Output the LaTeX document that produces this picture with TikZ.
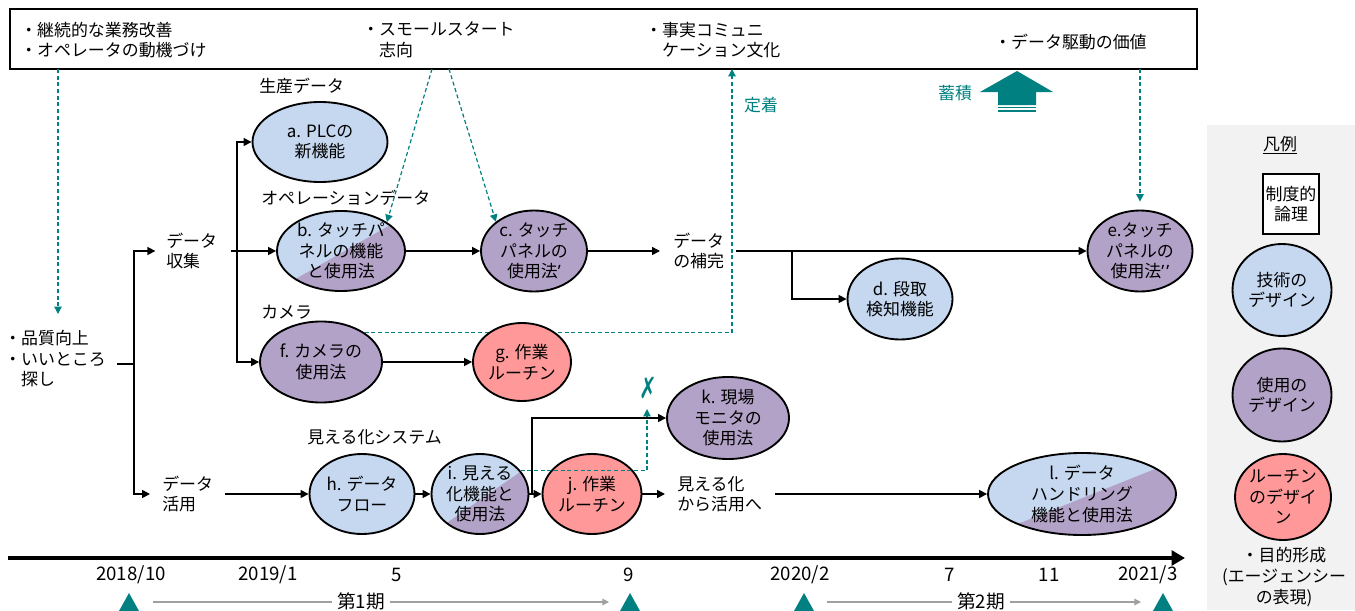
\documentclass[tikz,border=0pt]{standalone}
\usepackage{fontspec}
\usepackage{graphicx}
\setmainfont{Noto Sans CJK JP}
\newfontfamily\latf{Noto Sans}
\newfontfamily\symf{DejaVu Sans}
\usetikzlibrary{shapes.geometric,arrows.meta,calc}
\definecolor{techblue}{RGB}{197,216,240}
\definecolor{usepurple}{RGB}{179,162,199}
\definecolor{routpink}{RGB}{255,153,153}
\definecolor{tealc}{RGB}{0,128,128}
\definecolor{legendbg}{RGB}{242,242,242}
\definecolor{grayarr}{RGB}{160,160,160}
\begin{document}
\begin{tikzpicture}[x=0.75pt,y=-0.75pt,
  txt/.style={font=\fontsize{12.7}{15.4}\selectfont, inner sep=0pt, align=center},
  txtl/.style={txt, align=left, anchor=west},
  tltxt/.style={font=\fontsize{14}{16}\selectfont, inner sep=0pt},
  ell/.style 2 args={ellipse, draw, line width=1.4pt, inner sep=0pt, minimum width=#1*0.75pt, minimum height=#2*0.75pt},
  conn/.style={line width=1.2pt},
  arr/.style={conn, -{Triangle[length=6pt,width=6pt]}},
  tdash/.style={tealc, line width=0.9pt, dash pattern=on 3pt off 2pt},
  tarr/.style={tdash, -{Triangle[length=5.5pt,width=5.5pt]}},
  grayline/.style={grayarr, line width=0.8pt},
]
\useasboundingbox (0,0) rectangle (1355,610);

% legend background
\fill[legendbg] (1207,125) rectangle (1355,610);

% top box
\node[draw, line width=1.6pt, minimum width=1187*0.75pt, minimum height=60*0.75pt, inner sep=0pt] (topbox) at (603.5,39) {};
\node[txtl] (t1) at (20,40) {・継続的な業務改善\\・オペレータの動機づけ};
\node[txtl] (t2) at (362,40) {・スモールスタート\\\phantom{・}志向};
\node[txtl] (t3) at (645,40) {・事実コミュニ\\\phantom{・}ケーション文化};
\node[txtl] (t4) at (994,42) {・データ駆動の価値};

% labels
\node[txtl] (lprod) at (259,86) {生産データ};
\node[txtl] (lop) at (261,198) {オペレーションデータ};
\node[txtl] (lcam) at (261,312) {カメラ};
\node[txtl] (lvis) at (307,437) {見える化システム};
\node[txtl] (root) at (4,359) {・品質向上\\・いいところ\\\phantom{・}探し};
\node[txtl] (collect) at (166,251) {データ\\収集};
\node[txtl] (use) at (162,494) {データ\\活用};
\node[txtl] (compl) at (673,251) {データ\\の補完};
\node[txtl] (vis) at (677,494) {見える化\\から活用へ};
\node[txt, text=tealc] (lfix) at (761,105) {定着};
\node[txt, text=tealc] (lacc) at (955,93) {蓄積};

% named coordinates for free ends
\coordinate (q1a) at (58,69);
\coordinate (q1b) at (58,314);
\coordinate (q2a) at (432,69);
\coordinate (q3a) at (449,69);
\coordinate (q4) at (732,69);
\coordinate (q5a) at (1140,69);
\coordinate (q6) at (647,409);

% split fills
\begin{scope}
  \clip (341,251) ellipse [x radius=48pt, y radius=30pt];
  \fill[techblue] (270,205) rectangle (410,300);
  \fill[usepurple] (270,293.5) -- (410,213.7) -- (410,300) -- (270,300) -- cycle;
\end{scope}
\begin{scope}
  \clip (480,494) ellipse [x radius=36.4pt, y radius=30pt];
  \fill[techblue] (425,450) rectangle (535,540);
  \fill[usepurple] (425,538) -- (535,461.7) -- (535,540) -- (425,540) -- cycle;
\end{scope}
\begin{scope}
  \clip (1082,494) ellipse [x radius=70.5pt, y radius=30.75pt];
  \fill[techblue] (985,450) rectangle (1180,540);
  \fill[usepurple] (985,537) -- (1180,459) -- (1180,540) -- (985,540) -- cycle;
\end{scope}

% ellipses
\node[ell={135}{80}, fill=techblue] (a) at (320,142) {};
\node[ell={128}{80}] (b) at (341,251) {};
\node[ell={106}{81}, fill=usepurple] (c) at (534,251) {};
\node[ell={105}{81}, fill=techblue] (d) at (900,299) {};
\node[ell={105}{81}, fill=usepurple] (e) at (1140,251) {};
\node[ell={122}{81}, fill=usepurple] (f) at (321,362) {};
\draw[tdash] (f.north east) -- (f.north east -| q4);
\node[ell={98}{78}, fill=routpink] (g) at (522,362) {};
\node[ell={105}{80}, fill=techblue] (h) at (362,494) {};
\node[ell={97}{80}] (i) at (480,494) {};
\node[ell={99}{80}, fill=routpink] (j) at (592,494) {};
\node[ell={122}{82}, fill=usepurple] (k) at (728,418) {};
\node[ell={188}{82}] (l) at (1082,494) {};

\node[txt] (at) at (a) {a. PLCの\\新機能};
\node[txt] (bt) at (b) {b. タッチパ\\ネルの機能\\と使用法};
\node[txt] (ct) at (c) {c. タッチ\\パネルの\\使用法{\latf ’}};
\node[txt] (dt) at (d) {d. 段取\\検知機能};
\node[txt] (et) at (e) {e.タッチ\\パネルの\\使用法{\latf ’\kern1.6pt’}};
\node[txt] (ft) at (f) {f. カメラの\\使用法};
\node[txt] (gt) at (g) {g. 作業\\ルーチン};
\node[txt] (ht) at (h) {h. データ\\フロー};
\node[txt] (it) at (i) {i. 見える\\化機能と\\使用法};
\node[txt] (jt) at (j) {j. 作業\\ルーチン};
\node[txt] (kt) at (k) {k. 現場\\モニタの\\使用法};
\node[txt] (lt) at (l) {l. データ\\ハンドリング\\機能と使用法};

% teal dashed arrows
\draw[tarr] (q1a) -- (q1b);
\draw[tarr] (q2a) -- (b.north east);
\draw[tarr] (q3a) -- (c.north west);
\draw[tarr] (f.north east -| q4) -- (q4);
\draw[tarr, shorten >=6pt] (q5a) -- (e.north);
\draw[tarr] (i.30) -| (q6);
\node[text=tealc, font=\symf\bfseries\fontsize{22}{22}\selectfont, inner sep=0pt] (xm) at (648,388) {\scalebox{0.72}[1]{✗}};

% accumulate block arrow
\fill[tealc] (1017,71) -- (1053,92) -- (1036,92) -- (1036,105) -- (998,105) -- (998,92) -- (980,92) -- cycle;
\fill[tealc] (998,106.8) rectangle (1036,108.4);
\fill[tealc] (998,110.2) rectangle (1036,112);

% black connectors
\coordinate (rootout) at (117,364);
\coordinate (sp0) at (134,364);
\coordinate (sp1) at (237,251);
\coordinate (sp2) at (792,251);
\coordinate (sp3) at (532,494);
\draw[conn] (rootout) -- (sp0);
\draw[arr] (sp0) |- ([xshift=-8pt]collect.west);
\draw[arr] (sp0) |- ([xshift=-9pt]use.west);
\draw[arr] ([xshift=10pt]collect.east) -- (b.west);
\draw[arr] (sp1) |- (a.west);
\draw[arr] (sp1) |- (f.west);
\draw[arr] (b.east) -- (c.west);
\draw[arr] (c.east) -- ([xshift=-9.75pt]compl.west);
\draw[arr] ([xshift=9pt]compl.east) -- (e.west);
\draw[arr] (sp2) |- (d.west);
\draw[arr] (f.east) -- (g.west);
\draw[arr] ([xshift=9pt]use.east) -- (h.west);
\draw[arr] (h.east) -- (i.west);
\draw[arr] (i.east) -- (j.west);
\draw[arr] (sp3) |- (k.west);
\draw[arr] (j.east) -- ([xshift=-9pt]vis.west);
\draw[arr] ([xshift=9.75pt]vis.east) -- (l.west);

% timeline
\coordinate (tl0) at (8,558);
\coordinate (tl1) at (1185,558);
\draw[line width=2.8pt, -{Triangle[length=10pt,width=11pt]}] (tl0) -- (tl1);
\node[tltxt] (d1) at (131,575) {2018/10};
\node[tltxt] (d2) at (268,575) {2019/1};
\node[tltxt] (d3) at (397,575) {5};
\node[tltxt] (d4) at (629,575) {9};
\node[tltxt] (d5) at (800,575) {2020/2};
\node[tltxt] (d6) at (950,575) {7};
\node[tltxt] (d7) at (1049,575) {11};
\node[tltxt] (d8) at (1148,575) {2021/3};
\foreach \xx in {129,630,804,1163} {
  \fill[tealc] (\xx,593) -- (\xx+10,611) -- (\xx-10,611) -- cycle;
}
\node[tltxt] (p1) at (361,601) {第1期};
\node[tltxt] (p2) at (981,601) {第2期};
\coordinate (g1a) at (153,602);
\coordinate (g1b) at (609,602);
\coordinate (g2a) at (827,602);
\coordinate (g2b) at (1141,602);
\draw[grayline] (g1a) -- ([xshift=-4pt]p1.west |- g1a);
\draw[grayline, -{Triangle[length=5pt,width=5pt]}] ([xshift=4pt]p1.east |- g1b) -- (g1b);
\draw[grayline] (g2a) -- ([xshift=-4pt]p2.west |- g2a);
\draw[grayline, -{Triangle[length=5pt,width=5pt]}] ([xshift=4pt]p2.east |- g2b) -- (g2b);

% legend
\node[txt] (lg0) at (1280,145) {\underline{凡例}};
\node[draw, line width=1.4pt, fill=white, minimum width=56*0.75pt, minimum height=60*0.75pt, inner sep=0pt] (lg1) at (1291,204) {};
\node[txt] (lg1t) at (lg1) {制度的\\論理};
\node[ell={99}{92}, fill=techblue] (lg2) at (1282,290) {};
\node[txt] (lg2t) at (lg2) {技術の\\デザイン};
\node[ell={99}{93}, fill=usepurple] (lg3) at (1282,395) {};
\node[txt] (lg3t) at (lg3) {使用の\\デザイン};
\node[ell={96}{86}, fill=routpink] (lg4) at (1283,497) {};
\node[txt] (lg4t) at (lg4) {ルーチン\\のデザイ\\ン};
\node[txt] (lg5) at (1284,577) {・目的形成\\(エージェンシー\\の表現)};
\end{tikzpicture}
\end{document}
